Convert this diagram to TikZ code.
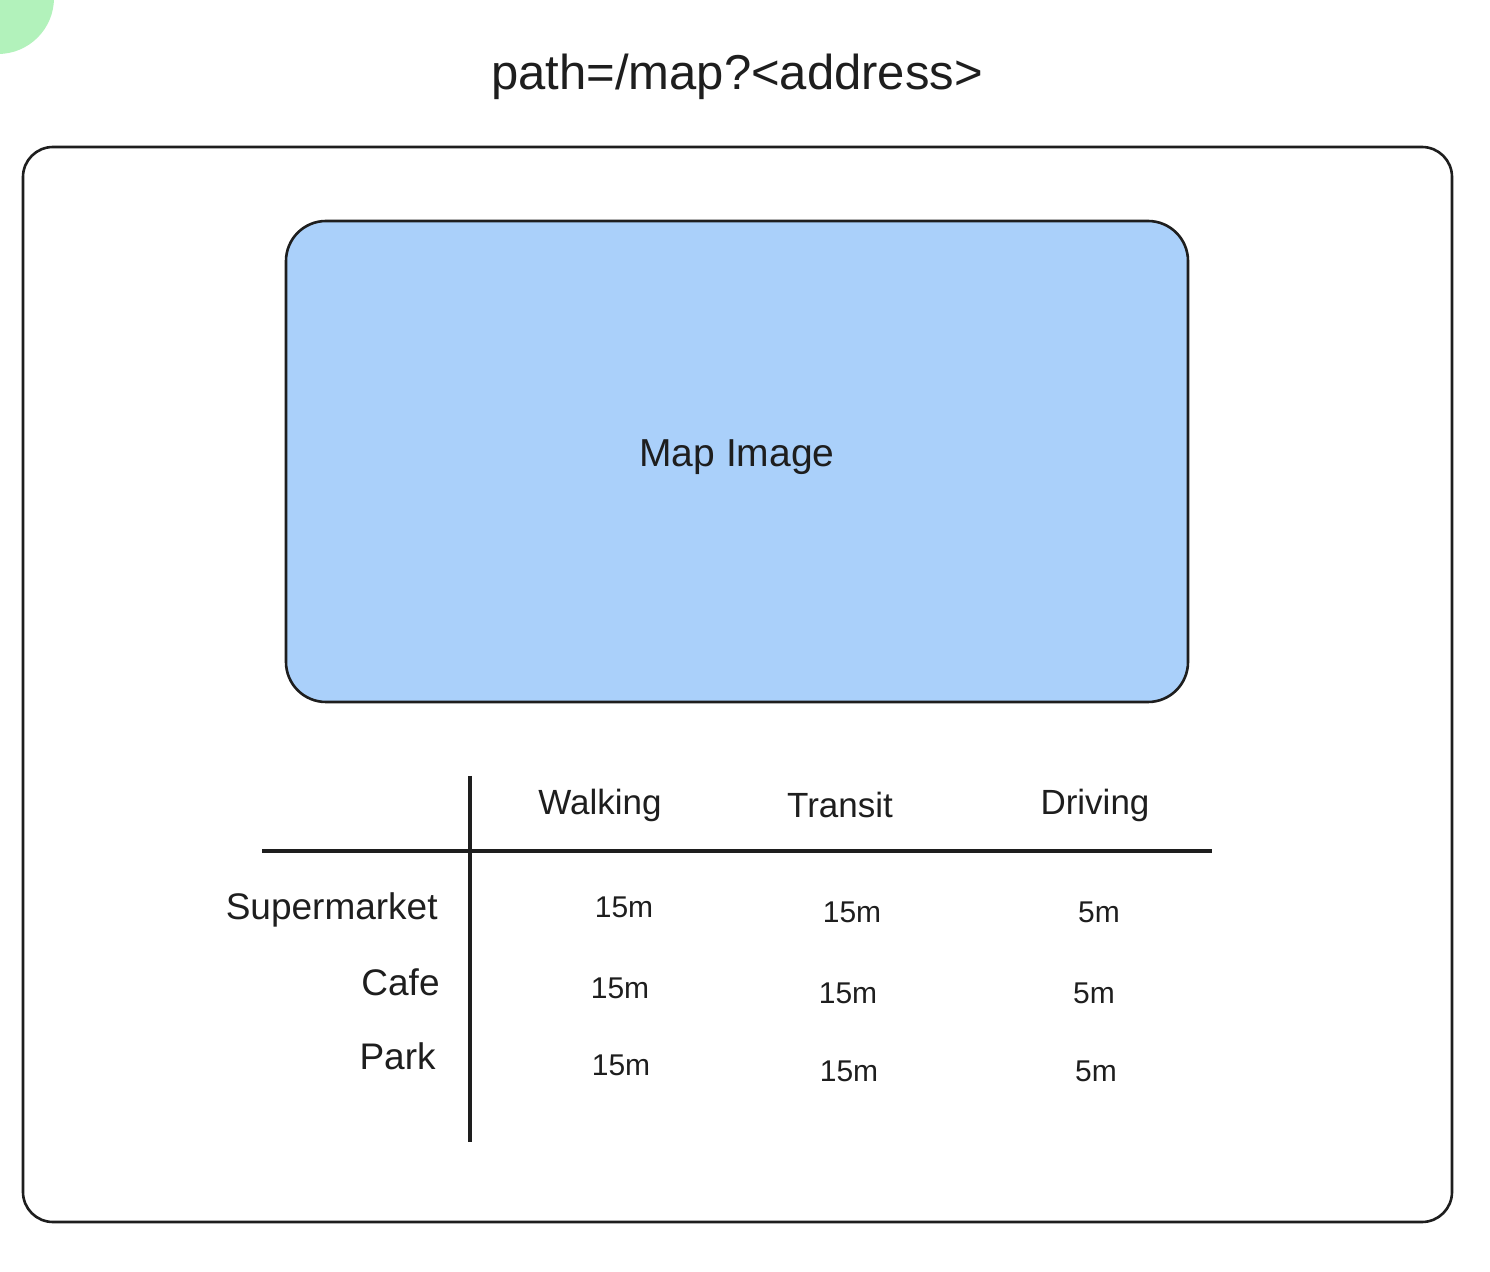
\documentclass[tikz,border=0pt]{standalone}
\usepackage{fontspec}
\setmainfont{Liberation Sans}
\definecolor{ink}{HTML}{1E1E1E}
\definecolor{mint}{HTML}{B2F2BB}
\definecolor{mapblue}{RGB}{170,208,250}
\begin{document}
\begin{tikzpicture}[x=0.5pt,y=-0.5pt,
  txt/.style={text=ink,font=\fontsize{17.5}{21}\selectfont,inner sep=0pt},
  num/.style={text=ink,font=\fontsize{15}{18}\selectfont,inner sep=0pt},
  rowlab/.style={txt,anchor=east},
  frame/.style={draw=ink,line width=1.3pt},
  rule/.style={draw=ink,line width=1.6pt}]
\useasboundingbox (0,0) rectangle (1490,1272);
\fill[white] (0,0) rectangle (1490,1272);
\begin{scope}
\clip (0,0) rectangle (1490,1272);
\fill[mint] (-2,-2) circle[radius=56];
\end{scope}
% title
\node[text=ink,font=\fontsize{24.5}{29}\selectfont,inner sep=0pt] (title) at (737,77) {path=/map?<address>};
% outer frame
\draw[frame,rounded corners=15pt] (23,147) rectangle (1452,1222);
% map box
\draw[frame,fill=mapblue,rounded corners=20pt] (286,221) rectangle (1188,702);
\node[txt,font=\fontsize{19.5}{23}\selectfont] (map) at (737,457) {Map Image};
% table lines
\coordinate (vtop) at (470,776);
\coordinate (vbot) at (470,1142);
\coordinate (hl) at (262,851);
\coordinate (hr) at (1212,851);
\draw[rule] (vtop) -- (vbot);
\draw[rule] (hl) -- (hr);
% headers
\node[txt] (hw) at (600,805) {Walking};
\node[txt] (ht) at (840,805) {Transit};
\node[txt] (hd) at (1095,805) {Driving};
% row labels
\node[rowlab,font=\fontsize{18.5}{22}\selectfont] (rs) at (438,910) {Supermarket};
\node[rowlab,font=\fontsize{18.5}{22}\selectfont] (rc) at (440,982) {Cafe};
\node[rowlab,font=\fontsize{18.5}{22}\selectfont] (rp) at (436,1056) {Park};
% values
\node[num] (s1) at (624,907) {15m};
\node[num] (s2) at (852,912) {15m};
\node[num] (s3) at (1099,912) {5m};
\node[num] (c1) at (620,988) {15m};
\node[num] (c2) at (848,993) {15m};
\node[num] (c3) at (1094,993) {5m};
\node[num] (p1) at (621,1065) {15m};
\node[num] (p2) at (849,1071) {15m};
\node[num] (p3) at (1096,1071) {5m};
\end{tikzpicture}
\end{document}
